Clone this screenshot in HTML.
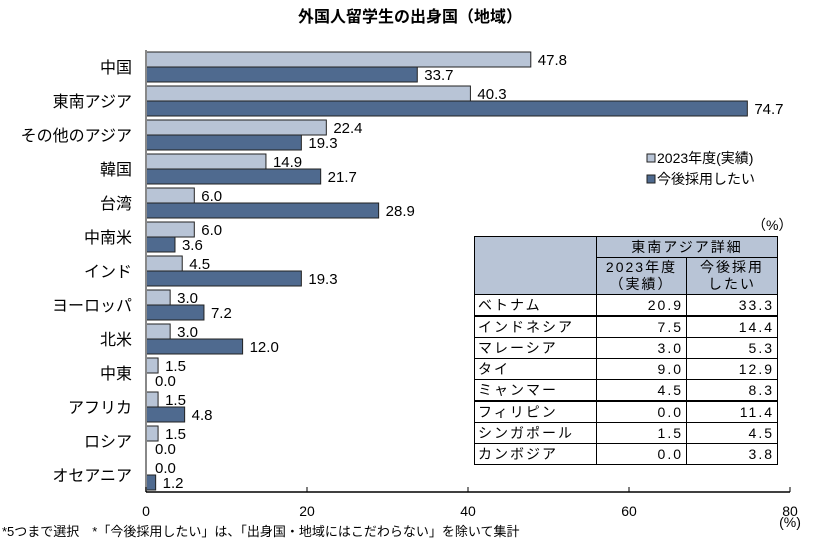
<!DOCTYPE html>
<html><head><meta charset="utf-8"><style>
body{margin:0;background:#fff;}
#wrap{position:relative;width:820px;height:552px;font-family:"Liberation Sans","Noto Sans CJK JP",sans-serif;}
table{border-collapse:collapse;position:absolute;left:474px;top:236px;font-family:"Liberation Sans","Noto Sans CJK JP",sans-serif;font-size:14px;letter-spacing:2px;}
td{border:1px solid #000;padding:0 3px;height:20px;line-height:19px;}
td.n{text-align:right;}
.hd{background:#b8c4d6;text-align:center;line-height:17px;}
tr.thick td{border-bottom:2px solid #000;}
</style></head><body>
<div id="wrap">
<svg id="chart" width="820" height="552" style="position:absolute;left:0;top:0"></svg>
<table>
<tr><td class="hd" rowspan="2" style="width:115px"></td><td class="hd" colspan="2">東南アジア詳細</td></tr>
<tr><td class="hd" style="width:83px;height:36px">2023年度<br>（実績）</td><td class="hd" style="width:84px">今後採用<br>したい</td></tr>
<tr class="thick"><td>ベトナム</td><td class="n">20.9</td><td class="n">33.3</td></tr>
<tr><td>インドネシア</td><td class="n">7.5</td><td class="n">14.4</td></tr>
<tr><td>マレーシア</td><td class="n">3.0</td><td class="n">5.3</td></tr>
<tr><td>タイ</td><td class="n">9.0</td><td class="n">12.9</td></tr>
<tr class="thick"><td>ミャンマー</td><td class="n">4.5</td><td class="n">8.3</td></tr>
<tr><td>フィリピン</td><td class="n">0.0</td><td class="n">11.4</td></tr>
<tr><td>シンガポール</td><td class="n">1.5</td><td class="n">4.5</td></tr>
<tr><td>カンボジア</td><td class="n">0.0</td><td class="n">3.8</td></tr>
</table>
</div>
<script>
const categories=["中国","東南アジア","その他のアジア","韓国","台湾","中南米","インド","ヨーロッパ","北米","中東","アフリカ","ロシア","オセアニア"];
const actual2023=[47.8,40.3,22.4,14.9,6.0,6.0,4.5,3.0,3.0,1.5,1.5,1.5,0.0];
const future=[33.7,74.7,19.3,21.7,28.9,3.6,19.3,7.2,12.0,0.0,4.8,0.0,1.2];
const xTicks=[0,20,40,60,80];
const NS="http://www.w3.org/2000/svg";
const svg=document.getElementById('chart');
const X0=146,X1=790,Y0=50,Y1=492,XMAX=80;
const band=(Y1-Y0)/categories.length;
function xs(v){return X0+v/XMAX*(X1-X0);}
function yb(i){return Y0+i*band;}
function mk(t,a){const e=document.createElementNS(NS,t);for(const k in a)e.setAttribute(k,a[k]);svg.appendChild(e);return e;}
let t=mk('text',{x:410,y:22,'text-anchor':'middle','font-size':16,'font-weight':'bold',fill:'#000'});t.textContent='外国人留学生の出身国（地域）';


categories.forEach((c,i)=>{
  const y=yb(i);
  let l=mk('text',{x:132,y:y+band/2+6,'text-anchor':'end','font-size':16,fill:'#000'});l.textContent=c;
  
  
  const sets=[[actual2023[i],'#b8c4d6',y+2],[future[i],'#4f6a8f',y+17]];
  sets.forEach(([v,col,by],k)=>{
    const w=xs(v)-X0;
    if(w>0){const r=mk('rect',{x:X0,y:by,width:w,height:15,fill:col,stroke:'#222','stroke-width':1});
      
      }
    const tx=mk('text',{x:xs(v)+(v>0?7:9),y:by+13,'font-size':15,fill:'#000'});tx.textContent=v.toFixed(1);
    
    
  });
});
mk('line',{x1:X0,y1:Y0,x2:X0,y2:Y1,stroke:'#888','stroke-width':2});
mk('line',{x1:X0,y1:Y1,x2:X1,y2:Y1,stroke:'#000','stroke-width':1.5});
xTicks.forEach(v=>{
  mk('line',{x1:xs(v),y1:Y1,x2:xs(v),y2:Y1-5,stroke:'#000'});
  const e=mk('text',{x:xs(v),y:516,'text-anchor':'middle','font-size':14,fill:'#000'});e.textContent=v;
  
  
});
let u=mk('text',{x:790,y:527,'text-anchor':'middle','font-size':14,fill:'#000'});u.textContent='(%)';


let f=mk('text',{x:2,y:536,'font-size':13,fill:'#000'});f.textContent='*5つまで選択　*「今後採用したい」は、「出身国・地域にはこだわらない」を除いて集計';


let tu=mk('text',{x:752,y:230,'font-size':14,fill:'#000'});tu.textContent='（%）';


[['2023年度(実績)','#b8c4d6',163],['今後採用したい','#4f6a8f',184]].forEach(([n,c,y])=>{
  const r=mk('rect',{x:647,y:y-9,width:8,height:8,fill:c,stroke:'#222'});
  
  
  const e=mk('text',{x:657,y:y,'font-size':14,fill:'#000'});e.textContent=n;
  
  
});
</script>
</body></html>
